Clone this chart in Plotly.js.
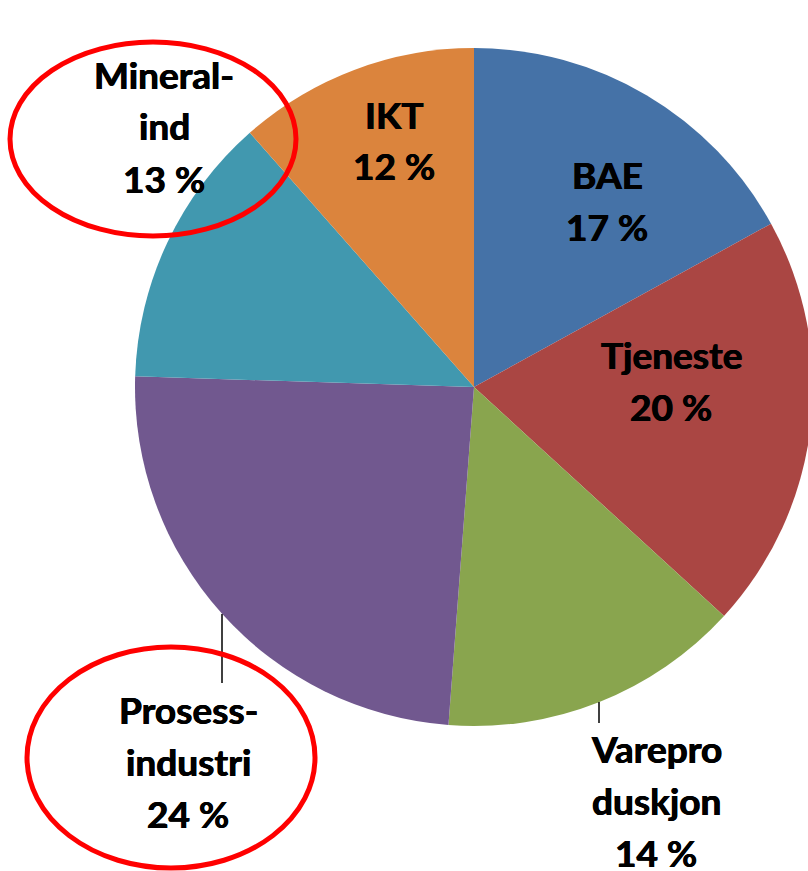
<!DOCTYPE html>
<html>
<head>
<meta charset="utf-8">
<script src="https://cdn.plot.ly/plotly-3.0.1.min.js"></script>
<style>
html, body { margin: 0; padding: 0; overflow: hidden; background: #ffffff; }
#chart { width: 816px; height: 871px; }
</style>
</head>
<body>
<div id="chart"></div>
<script>
// ---- data ----
const categories = ["BAE", "Tjeneste", "Varepro<br>duskjon", "Prosess-<br>industri", "Mineral-<br>ind", "IKT"];
const shares = [17.0, 19.8, 14.4, 24.3, 13.0, 11.5];
const sliceColors = ["#4572A7", "#AA4643", "#89A54E", "#71588F", "#4198AF", "#DB843D"];

// ---- layout helpers (pixel positions of the drawing) ----
const W = 816, H = 871;
const px = x => x / W;
const py = y => 1 - y / H;
const cx = 474, cy = 387, R = 339;

// label block centres in pixels, and line pitch
const labelCentres = [[607, 202], [671, 382.5], [656, 802.5], [188, 763], [164, 128], [394, 142]];
const linePitch = 52;

const pctLabels = shares.map(v => Math.round(v) + " %");

const trace = {
  type: "pie",
  labels: categories,
  values: shares,
  sort: false,
  direction: "clockwise",
  rotation: 0,
  textinfo: "none",
  hoverinfo: "label+percent",
  marker: { colors: sliceColors, line: { width: 0 } },
  domain: { x: [px(cx - R), px(cx + R)], y: [py(cy + R), py(cy - R)] },
  showlegend: false
};

const labelFont = {
  family: "Lato, 'Open Sans', sans-serif", size: 37, color: "#000000", weight: 700,
  shadow: "0.45px 0 0 #000, -0.45px 0 0 #000"
};

const annotations = [];
categories.forEach((c, i) => {
  const lines = c.split("<br>").concat([pctLabels[i]]);
  const n = lines.length;
  lines.forEach((t, k) => {
    const yy = labelCentres[i][1] + (k - (n - 1) / 2) * linePitch;
    annotations.push({
      xref: "paper", yref: "paper",
      x: px(labelCentres[i][0]), y: py(yy - 2),
      xanchor: "center", yanchor: "middle",
      text: t, showarrow: false, borderpad: 0,
      font: labelFont
    });
  });
});

const shapes = [
  // leader lines
  { type: "line", xref: "paper", yref: "paper", x0: px(222), x1: px(222), y0: py(614), y1: py(683), line: { color: "#000000", width: 1.5 } },
  { type: "line", xref: "paper", yref: "paper", x0: px(599), x1: px(599), y0: py(702), y1: py(723), line: { color: "#000000", width: 1.5 } },
  // red highlight ellipses
  { type: "circle", xref: "paper", yref: "paper", x0: px(10), x1: px(296), y0: py(236), y1: py(42), line: { color: "#FF0000", width: 5 } },
  { type: "circle", xref: "paper", yref: "paper", x0: px(27), x1: px(315), y0: py(868), y1: py(647), line: { color: "#FF0000", width: 5 } }
];

const layout = {
  width: W, height: H,
  margin: { l: 0, r: 0, t: 0, b: 0, pad: 0 },
  paper_bgcolor: "#ffffff",
  plot_bgcolor: "#ffffff",
  annotations: annotations,
  shapes: shapes
};

Plotly.newPlot("chart", [trace], layout, { displayModeBar: false, staticPlot: true });
</script>
</body>
</html>
